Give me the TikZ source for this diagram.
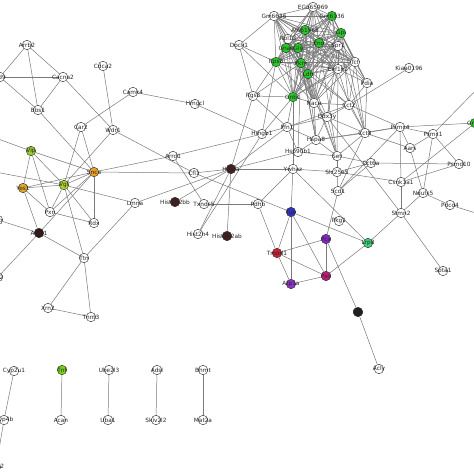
\documentclass[tikz,border=0pt]{standalone}
\usepackage{fontspec}
\setmainfont{DejaVu Sans}
\usetikzlibrary{backgrounds}
\definecolor{cg}{RGB}{40,200,40}
\definecolor{cvip}{RGB}{150,205,50}
\definecolor{cvgf}{RGB}{175,212,40}
\definecolor{ctnf}{RGB}{120,210,20}
\definecolor{csnca}{RGB}{235,160,40}
\definecolor{cyes}{RGB}{225,170,40}
\definecolor{cbrn}{RGB}{70,32,32}
\definecolor{cact}{RGB}{50,25,25}
\definecolor{cblu}{RGB}{50,50,200}
\definecolor{cred}{RGB}{210,30,50}
\definecolor{cpur}{RGB}{130,40,200}
\definecolor{cmag}{RGB}{190,30,120}
\definecolor{catp}{RGB}{140,50,200}
\definecolor{clrp}{RGB}{60,210,120}
\definecolor{cblk}{RGB}{30,30,30}
\tikzset{
  nd/.style={circle,draw=black!85,line width=0.4pt,minimum size=9.5pt,inner sep=0pt,fill=#1},
  nd/.default=white,
  lbl/.style={font=\fontsize{5.8}{6}\selectfont,text=black!85,inner sep=0pt},
  edge/.style={draw=black!52,line width=0.5pt}
}
\newcommand{\mkn}[4][white]{\node[nd=#1,label={[lbl]center:#4}] (#2) at (#3) {};}
\begin{document}
\begin{tikzpicture}[x=1pt,y=-1pt]
\useasboundingbox (0,0) rectangle (474,474);
\clip (0,0) rectangle (474,474);
% top-left
\mkn{Arrb2}{27,45}{Arrb2}
\mkn{Cd9}{0,77}{Cd9}
\mkn{Cacna2}{63,77}{Cacna2}
\mkn{Bbs1}{38,110}{Bbs1}
\mkn{Cdca2}{103,66}{Cdca2}
\mkn{Camk4}{133,92}{Camk4}
\mkn{Car2}{81,127}{Car2}
\mkn{Wdr1}{113,130}{Wdr1}
\mkn{Hmgcl}{195,104}{Hmgcl}
\mkn{Dock1}{239,45}{Dock1}
\mkn{Rgs8}{253,96}{Rgs8}
% cluster
\mkn{Gm6636}{274,16}{Gm6636}
\mkn{EG}{313,7}{EG665969}
\mkn[cg]{Gm6136}{332,16}{Gm6136}
\mkn[cg]{gA}{341,33}{Gpi}
\mkn[cg]{AI}{305,30}{AI661968}
\mkn{Rpl13}{288,39}{Rpl13}
\mkn[cg]{Gnas}{286,48}{Gnas}
\mkn[cg]{gB}{298,48}{Gls}
\mkn[cg]{gC}{319,43}{Eno}
\mkn{Spr1}{338,46}{Spr1}
\mkn[cg]{Rps8}{276,62}{Rps8}
\mkn[cg]{gD}{301,63}{Pkm}
\mkn[cg]{gE}{308,74}{Ldh}
\mkn{Eef1b2}{338,69}{Eef1b2}
\mkn{Tcf}{355,62}{Tcf}
\mkn[cg]{gG}{293,97}{Gnb1}
\mkn{Naca}{314,103}{Naca}
% right upper
\mkn{Kiaa}{409,68}{Kiaa0196}
\mkn{Pdia}{367,83}{Pdia}
\mkn{Cct2}{349,105}{Cct2}
\mkn{Ddx}{327,117}{Ddx3y}
\mkn{Hmgb1}{262,134}{Hmgb1}
\mkn{Pfn1}{287,127}{Pfn1}
\mkn{Hspa8}{316,140}{Hspa8}
\mkn{Hsp90}{298,152}{Hsp90b1}
\mkn{Cct8}{365,133}{Cct8}
\mkn{Psmc4}{400,127}{Psmc4}
\mkn{Psmc1}{433,134}{Psmc1}
\mkn[cg]{GnR}{475,123}{Gnb2}
\mkn{Aars}{410,148}{Aars}
\mkn{Set}{337,156}{Set}
\mkn{Cct6a}{371,163}{Cct6a}
\mkn{Slc}{337,172}{Slc25a5}
\mkn{Scd1}{338,191}{Scd1}
\mkn{Psmd10}{459,164}{Psmd10}
\mkn{Csnk}{401,182}{Csnk1a1}
\mkn{Ndufs5}{423,193}{Ndufs5}
\mkn{Pdcd4}{450,205}{Pdcd4}
\mkn{Agt}{479,214}{Agt}
\mkn{Stmn2}{401,213}{Stmn2}
\mkn{Pkg1}{339,221}{Pkg1}
\mkn[cpur]{Pcx}{326,239}{Pcx}
\mkn[clrp]{Lrp8}{368,243}{Lrp8}
\mkn[cmag]{Psd}{326,276}{Psd}
\mkn{Spta1}{443,271}{Spta1}
\mkn[cblk]{Pbx}{358,312}{Pbx}
\mkn{Acly}{379,369}{Acly}
% middle
\mkn{Ywhaz}{293,169}{Ywhaz}
\mkn[cbrn]{H2afa}{231,169}{H2afa}
\mkn{Arrd1}{173,156}{Arrd1}
\mkn{Cfl1}{194,173}{Cfl1}
\mkn[cbrn]{Hbb}{175,202}{Hist1h2bb}
\mkn{Txndc5}{204,204}{Txndc5}
\mkn{Pdhb}{258,204}{Pdhb}
\mkn[cblu]{Tub}{291,212}{Tub}
\mkn{Hh4}{198,234}{Hist2h4}
\mkn[cbrn]{Hab}{227,236}{Hist2h2ab}
\mkn[cred]{Tmod1}{277,253}{Tmod1}
\mkn[catp]{Atp}{291,284}{Atp1a}
% left
\mkn[cvip]{Vip}{31,151}{Vip}
\mkn[csnca]{Snca}{94,172}{Snca}
\mkn[cyes]{Yes1}{23,188}{Yes1}
\mkn[cvgf]{Vgf}{64,185}{Vgf}
\mkn{Pxn}{50,212}{Pxn}
\mkn{Rdx}{94,223}{Rdx}
\mkn[cact]{Actn1}{39,233}{Actn1}
\mkn{Lmna}{135,203}{Lmna}
\mkn{Ttn}{84,258}{Ttn}
\mkn{Xrn2}{48,308}{Xrn2}
\mkn{Tnnt3}{91,317}{Tnnt3}
\mkn{Clb}{-2,220}{Clb}
\mkn{Nr2}{-2,277}{Nr2}
% bottom
\mkn{Cyp2u1}{14,371}{Cyp2u1}
\mkn{Cyp4b}{4,420}{Cyp4b}
\mkn{Mpo2}{-4,467}{Mpo2}
\mkn[ctnf]{Tnf}{62,370}{Tnf}
\mkn{Acan}{61,420}{Acan}
\mkn{Ube2l3}{109,370}{Ube2l3}
\mkn{Uba1}{108,420}{Uba1}
\mkn{Adsl}{157,370}{Adsl}
\mkn{Skiv}{156,420}{Skiv2l2}
\mkn{Bhmt}{203,370}{Bhmt}
\mkn{Mat2a}{203,420}{Mat2a}
\coordinate (oVip) at (-10,136);
\coordinate (oVgf) at (-10,171);
\coordinate (oR) at (484,82);
\begin{scope}[on background layer]
\fill[white] (0,0) rectangle (474,474);
\foreach \a [count=\i] in {Gm6636,EG,Gm6136,gA,AI,Rpl13,Gnas,gB,gC,Spr1,Rps8,gD,gE,Eef1b2,Tcf,gG,Naca}{
  \foreach \b [count=\j] in {Gm6636,EG,Gm6136,gA,AI,Rpl13,Gnas,gB,gC,Spr1,Rps8,gD,gE,Eef1b2,Tcf,gG,Naca}{
    \ifnum\j>\i \draw[edge] (\a) -- (\b); \fi
  }
}
\foreach \a/\b in {Arrb2/Cd9,Arrb2/Cacna2,Arrb2/Bbs1,Cd9/Cacna2,Cd9/Bbs1,Cacna2/Bbs1,Cacna2/Wdr1,Bbs1/Snca,Cdca2/Wdr1,Camk4/Car2,Camk4/Hmgcl,Car2/Vgf,Car2/Snca,Wdr1/Vgf,Wdr1/Cfl1,
Vip/oVip,Vip/Snca,Vip/Yes1,Vip/Vgf,Vip/Pxn,Yes1/Snca,Yes1/Vgf,Yes1/Pxn,Yes1/Actn1,Vgf/Snca,Vgf/Pxn,Vgf/Rdx,Vgf/Ttn,Vgf/oVgf,Vgf/Lmna,Snca/Rdx,Snca/Pxn,Snca/Actn1,Snca/Arrd1,Snca/Cfl1,Pxn/Rdx,Actn1/Ttn,Actn1/Clb,Actn1/Nr2,Ttn/Lmna,Ttn/Xrn2,Ttn/Tnnt3,Xrn2/Tnnt3,Lmna/H2afa,
Hmgcl/Hmgb1,Arrd1/Hmgb1,Arrd1/Txndc5,Cfl1/H2afa,Cfl1/Tub,H2afa/Hbb,H2afa/Hh4,H2afa/Hab,H2afa/Ywhaz,H2afa/Hsp90,H2afa/Pfn1,H2afa/Rgs8,Hh4/Hmgb1,Txndc5/Pdhb,Pdhb/Ywhaz,Pdhb/Tmod1,Tub/Tmod1,Tub/Atp,Tub/Lrp8,Tub/Psd,Tub/Ywhaz,Tmod1/Pcx,Tmod1/Psd,Tmod1/Atp,Atp/Psd,Pcx/Psd,Pcx/Scd1,Pcx/Pbx,Pbx/Acly,Lrp8/Stmn2,Lrp8/Psd,Ywhaz/Lrp8,Ywhaz/Slc,Ywhaz/gG,
Stmn2/Ndufs5,Stmn2/Spta1,Stmn2/Csnk,Stmn2/Ddx,Csnk/Psmc4,Csnk/Slc,Csnk/Psmd10,Csnk/GnR,Ndufs5/Pdcd4,Pdcd4/Agt,Ndufs5/Aars,Ndufs5/Psmc1,Psmd10/Psmc1,Cct6a/Psmd10,Kiaa/Cct2,Psmc4/Psmc1,Psmc4/Cct2,Psmc4/Cct8,Psmc4/Aars,Psmc4/GnR,Psmc1/oR,Aars/Cct8,Aars/Psmc1,Cct8/Hspa8,Cct8/Set,Cct8/Ddx,Cct8/Cct2,Set/Slc,Set/Hspa8,Set/Ddx,Set/Cct6a,Slc/Scd1,Slc/Cct6a,Scd1/Cct6a,Scd1/Cct8,Scd1/Psmc4,Pdia/Cct8,Pdia/gC,Pdia/Eef1b2,Pdia/Tcf,Pdia/Cct2,
Hmgb1/Pfn1,Pfn1/Ddx,Pfn1/Cct2,Pfn1/Hspa8,Pfn1/Hsp90,Pfn1/gG,Pfn1/Rgs8,Hsp90/Hspa8,Hsp90/Set,Hspa8/Ddx,Hspa8/Naca,Hspa8/Psmc4,Ddx/Naca,Ddx/Cct2,Naca/Cct2,Rgs8/gG,Rgs8/Rps8,Rgs8/gD,Dock1/Rgs8,Dock1/gG,Dock1/Gm6636,Dock1/Rps8,Cct2/Tcf,Cct2/Eef1b2,Cct2/gE,Cct2/gD,Cct2/gA,Ddx/gE,Ddx/Eef1b2,Ddx/Spr1,Hspa8/gE,Hspa8/gD,Cct8/gC,Set/gD,Hmgb1/Rps8,Hmgb1/gG,
gE/Set,gD/Hsp90,gB/Hspa8,gC/Set,gA/Cct8,Spr1/Cct8,Eef1b2/Set,Tcf/Cct8,Gm6136/Pdia,gA/Pdia,Spr1/Pdia,
Cyp2u1/Cyp4b,Cyp4b/Mpo2,Tnf/Acan,Ube2l3/Uba1,Adsl/Skiv,Bhmt/Mat2a}{
  \draw[edge] (\a) -- (\b);
}
\end{scope}
\end{tikzpicture}
\end{document}
